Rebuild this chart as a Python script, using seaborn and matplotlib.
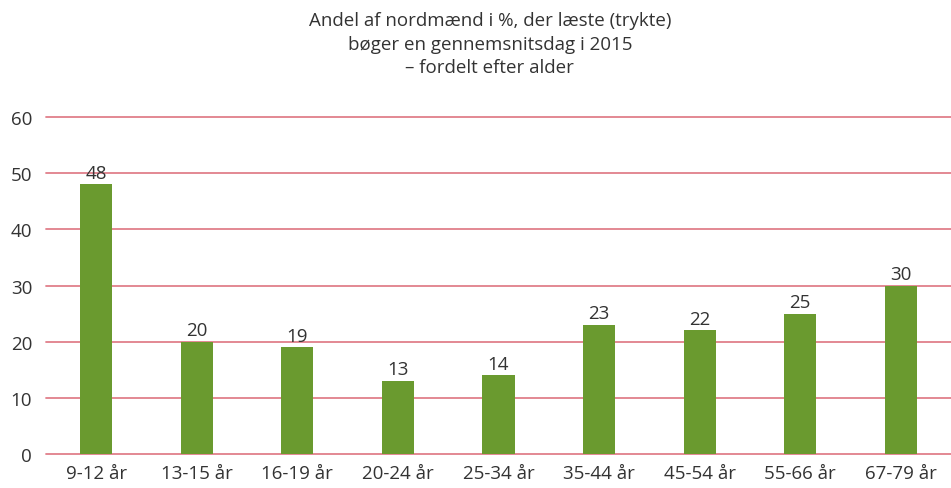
import matplotlib
matplotlib.use("Agg")
import matplotlib.pyplot as plt
import seaborn as sns
import pandas as pd

categories = ["9-12 år", "13-15 år", "16-19 år", "20-24 år", "25-34 år",
              "35-44 år", "45-54 år", "55-66 år", "67-79 år"]
values = [48, 20, 19, 13, 14, 23, 22, 25, 30]
yticks = [0, 10, 20, 30, 40, 50, 60]
title = "Andel af nordmænd i %, der læste (trykte)\nbøger en gennemsnitsdag i 2015\n– fordelt efter alder"

sns.set_theme(style="white")
plt.rcParams['font.family'] = ['Open Sans', 'DejaVu Sans']

df = pd.DataFrame({"cat": categories, "val": values})
fig = plt.figure(figsize=(9.51, 4.89), dpi=100)
ax = fig.add_axes([0.0484, 0.0695, 0.9516, 0.6892])
sns.barplot(data=df, x="cat", y="val", color="#6A9A2F", saturation=1,
            width=0.32, ax=ax, zorder=3, linewidth=0, edgecolor="none")
ax.set_ylim(0, 60)
ax.set_xlim(-0.5, len(categories) - 0.5)
ax.set_yticks(yticks)
for t in yticks:
    ax.axhline(t, color="#E07F8A", linewidth=1.3, zorder=1, clip_on=False)
for s in ax.spines.values():
    s.set_visible(False)
ax.set_xlabel("")
ax.set_ylabel("")
ax.tick_params(axis="both", length=0, labelsize=13.5, colors="#333333", pad=7)
ax.tick_params(axis="y", pad=10)
for c in ax.containers:
    ax.bar_label(c, fmt="%d", fontsize=13.5, color="#333333", padding=2)
fig.text(0.515, 0.975, title, ha="center", va="top", fontsize=13.5,
         color="#333333", linespacing=1.4)
fig.savefig("out.png", dpi=100)
